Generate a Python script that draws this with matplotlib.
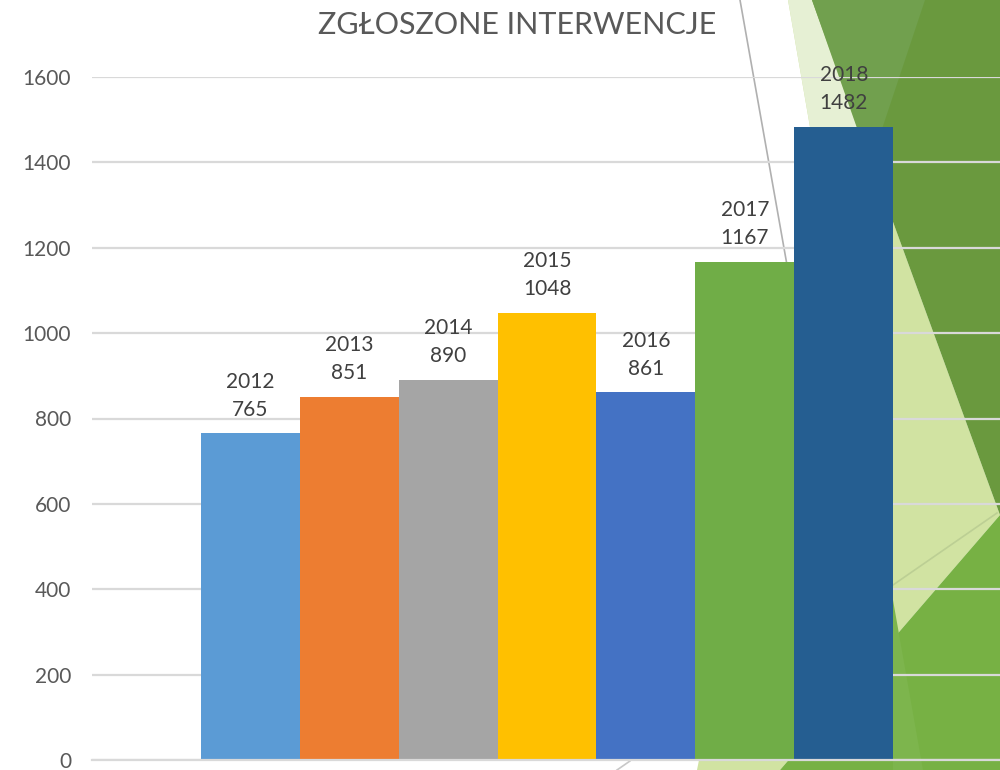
import matplotlib.pyplot as plt
from matplotlib.patches import Polygon
from matplotlib.lines import Line2D

# dane
lata = ['2012', '2013', '2014', '2015', '2016', '2017', '2018']
interwencje = [765, 851, 890, 1048, 861, 1167, 1482]
kolory = ['#5B9BD5', '#ED7D31', '#A5A5A5', '#FFC000', '#4472C4', '#70AD47', '#255E91']
y_ticks = [0, 200, 400, 600, 800, 1000, 1200, 1400, 1600]

plt.rcParams['font.family'] = ['Lato', 'DejaVu Sans']

W, H = 1000, 770
fig = plt.figure(figsize=(W / 100, H / 100), dpi=100)


def px(pts):
    # piksele obrazka -> współrzędne figury
    return [(x / W, 1 - y / H) for x, y in pts]


# tło slajdu (zielone trójkąty), pod osiami
tlo = [
    ([(788, 0), (812, 0), (1000, 515), (780, 770), (697, 770),
      (797, 270), (810, 127)], '#D1E3A2'),
    ([(788, 0), (812, 0), (857, 127), (810, 127)], '#E6F0D4'),
    ([(812, 0), (1000, 0), (1000, 515)], '#6A993E'),
    ([(812, 0), (925, 0), (870, 165)], '#71A04E'),
    ([(1000, 515), (780, 770), (1000, 770)], '#77B144'),
    ([(893, 600), (923, 770), (893, 770)], '#7DB54D'),
]
for pts, c in tlo:
    fig.patches.append(Polygon(px(pts), closed=True, facecolor=c, edgecolor='none',
                               transform=fig.transFigure, zorder=-3))
for (x0, y0), (x1, y1), c in [((740, 0), (787, 265), '#B0B0B0'),
                              ((617, 770), (630, 761), '#C8C8C8'),
                              ((893, 585), (997, 513), '#BCCF94')]:
    fig.lines.append(Line2D([x0 / W, x1 / W], [1 - y0 / H, 1 - y1 / H], color=c, lw=1.2,
                            transform=fig.transFigure, zorder=-2))

ax = fig.add_axes([0.092, 1 - 760 / H, 0.91, (760 - 77) / H])
ax.patch.set_alpha(0)

poz = list(range(len(lata)))
slupki = ax.bar(poz, interwencje, width=1.0, color=kolory, zorder=2)

for p, rok, v in zip(poz, lata, interwencje):
    ax.annotate(f'{rok}\n{v}', xy=(p, v), xytext=(0, 10), textcoords='offset points',
                ha='center', va='bottom', fontsize=15, color='#404040', linespacing=1.5)

ax.set_ylim(0, 1600)
ax.set_xlim(-1.6, 7.6)
ax.set_yticks(y_ticks)
ax.set_xticks([])
ax.yaxis.grid(True, color='#D9D9D9', lw=1.6, zorder=1)
ax.set_axisbelow(True)
ax.tick_params(axis='y', length=0, pad=15, labelsize=15, labelcolor='#595959')
for s in ['top', 'right', 'left']:
    ax.spines[s].set_visible(False)
ax.spines['bottom'].set_color('#D9D9D9')
ax.spines['bottom'].set_linewidth(1.6)

fig.text(0.517, 0.967, 'ZGŁOSZONE INTERWENCJE', ha='center', va='center',
         fontsize=22, color='#595959')

fig.savefig('out.png', dpi=100)
